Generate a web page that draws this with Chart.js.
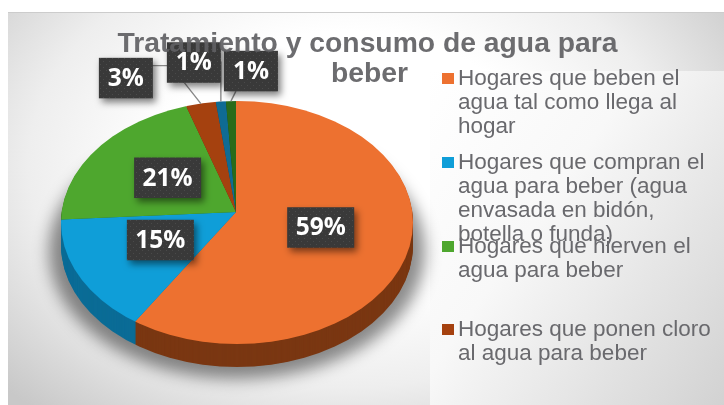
<!DOCTYPE html>
<html><head><meta charset="utf-8">
<script src="https://cdn.jsdelivr.net/npm/chart.js@4"></script>
<style>
html,body{margin:0;padding:0;background:#fff;width:724px;height:405px;overflow:hidden}
#panel{position:absolute;left:8px;top:12px;width:716px;height:393px;border-top:1px solid #ccc;box-sizing:border-box;
background:radial-gradient(ellipse 470px 330px at 340px 150px,#ffffff 40%,#eeeeee 68%,#c8c8c8 100%)}
#legbg{position:absolute;left:430px;top:71px;width:294px;height:334px;background:linear-gradient(125deg,#ffffff 0%,#f8f8f8 40%,#d2d2d2 100%)}
canvas{position:absolute;left:0;top:0}
</style></head><body>
<div id="panel"></div><div id="legbg"></div>
<canvas id="c" width="724" height="405"></canvas>
<script>
const categories=[
 ["Hogares que beben el","agua tal como llega al","hogar"],
 ["Hogares que compran el","agua para beber (agua","envasada en bidón,","botella o funda)"],
 ["Hogares que hierven el","agua para beber"],
 ["Hogares que ponen cloro","al agua para beber"],
 [],[]];
const values=[59,15,21,3,1,1];
const valueLabels=["59%","15%","21%","3%","1%","1%"];
const colors=["#ED7130","#0F9ED8","#4EA72E","#A5410F","#0F6B93","#2A6B1A"];
const sideColors=["#7A3712","#0B6C96","#2F6A1B","#6A2A0A","#0A4A66","#1A4A10"];
const titleLines=["Tratamiento y consumo de agua para","beber"];

// rim ellipse of the tilted disc, and the foreshortening about the chart centre
const rimX=237,rimY=222.5,rimRx=176,rimRy=121.5,squash=0.69,depth=23;
// label placement, in pixels: from the slice anchor (big slices) or rim point (callouts)
const labelOffsets=[[-7.5,-3],[7,-5.7],[11,3],[-75,-25.5],[-27,-39],[20,-30]];
const labelIsCallout=[false,false,false,true,true,true];
const leaderBends=[[[-30,-38],[-50,-38]],[[0,-40]],[[5,-10]]];
const leaderOf=[null,null,null,0,1,2];
const legendTop=[79,163,247,330];

function centre(chart){const a=chart.getDatasetMeta(0).data[0];return [a.x,a.y];}
function rimClip(ctx,dy){ctx.beginPath();ctx.ellipse(rimX,rimY+dy,rimRx,rimRy,0,0,Math.PI*2);ctx.clip();}
function tilt(ctx,c,dy){ctx.translate(c[0],c[1]+dy);ctx.scale(1,squash);ctx.translate(-c[0],-c[1]);}
// point where the slice's mid-ray leaves the rim ellipse
function rimPoint(c,a){
 const p=a.getProps(['startAngle','endAngle'],true),m=(p.startAngle+p.endAngle)/2;
 const dx=Math.cos(m),dy=Math.sin(m)*squash,ox=c[0]-rimX,oy=c[1]-rimY;
 const A=dx*dx/(rimRx*rimRx)+dy*dy/(rimRy*rimRy),B=2*(ox*dx/(rimRx*rimRx)+oy*dy/(rimRy*rimRy)),C=ox*ox/(rimRx*rimRx)+oy*oy/(rimRy*rimRy)-1;
 const t=(-B+Math.sqrt(B*B-4*A*C))/(2*A);
 return [c[0]+dx*t,c[1]+dy*t];
}
function texture(ctx){
 const t=document.createElement('canvas');t.width=t.height=6;const g=t.getContext('2d');
 g.fillStyle='#393939';g.fillRect(0,0,6,6);g.fillStyle='#4a4a4a';g.fillRect(1,1,1,1);g.fillRect(4,4,1,1);
 return ctx.createPattern(t,'repeat');
}

const pie3d={
 id:'pie3d',
 beforeDatasetsDraw(chart){
  const ctx=chart.ctx,arcs=chart.getDatasetMeta(0).data,c=centre(chart);
  ctx.save();ctx.filter='blur(8px)';ctx.fillStyle='rgba(0,0,0,0.45)';
  ctx.beginPath();ctx.ellipse(rimX,rimY+depth+6,rimRx+12,rimRy+6,0,0,Math.PI*2);ctx.fill();ctx.restore();
  for(let d=depth;d>0;d--){
   ctx.save();rimClip(ctx,d);tilt(ctx,c,d);
   arcs.forEach((a,i)=>{
     const s=a.options.backgroundColor,b=a.options.borderColor;
     a.options.backgroundColor=sideColors[i];a.options.borderColor=sideColors[i];
     a.draw(ctx);
     a.options.backgroundColor=s;a.options.borderColor=b;});
   ctx.restore();
  }
  ctx.save();rimClip(ctx,0);tilt(ctx,c,0);
 },
 afterDatasetsDraw(chart){
  const ctx=chart.ctx,arcs=chart.getDatasetMeta(0).data,c=centre(chart);
  ctx.restore();
  const boxes=arcs.map((a,i)=>{
   const rim=rimPoint(c,a),p=a.tooltipPosition();
   const anchor=labelIsCallout[i]?rim:[p.x,c[1]+(p.y-c[1])*squash];
   return {rim,x:anchor[0]+labelOffsets[i][0],y:anchor[1]+labelOffsets[i][1]};
  });
  ctx.strokeStyle='#8a8a8a';ctx.lineWidth=1.4;
  boxes.forEach((b,i)=>{
   if(leaderOf[i]===null)return;
   ctx.beginPath();ctx.moveTo(b.rim[0],b.rim[1]);
   leaderBends[leaderOf[i]].forEach(o=>ctx.lineTo(b.rim[0]+o[0],b.rim[1]+o[1]));ctx.stroke();
  });
  const fill=texture(ctx);
  boxes.forEach((b,i)=>{
   const w=valueLabels[i].length>2?67:54,h=40.5;
   ctx.save();
   ctx.shadowColor='rgba(0,0,0,0.5)';ctx.shadowBlur=7;ctx.shadowOffsetX=3;ctx.shadowOffsetY=4;
   ctx.fillStyle=fill;ctx.fillRect(b.x-w/2,b.y-h/2,w,h);ctx.restore();
   ctx.fillStyle='#fff';ctx.font='bold 24.5px "Open Sans","DejaVu Sans",sans-serif';
   ctx.textAlign='center';ctx.textBaseline='middle';
   ctx.fillText(valueLabels[i],b.x,b.y+1);
  });
  ctx.textAlign='left';ctx.textBaseline='alphabetic';
  ctx.font='22.5px "Liberation Sans",Arial,sans-serif';
  categories.forEach((lines,i)=>{
   if(!lines.length)return;
   const t=legendTop[i];
   ctx.fillStyle=colors[i];ctx.fillRect(442,t-6,12,11);
   ctx.fillStyle='#69696d';
   lines.forEach((l,j)=>ctx.fillText(l,458,t+6+j*24));
  });
 }
};

new Chart(document.getElementById('c'),{
 type:'pie',
 data:{labels:categories.map(l=>l.join(' ')),datasets:[{data:values,backgroundColor:colors,borderWidth:0}]},
 options:{responsive:false,animation:false,
  layout:{padding:{left:40,right:292,top:20,bottom:1}},
  plugins:{legend:{display:false},tooltip:{enabled:false},title:{display:false}}
 },
 plugins:[pie3d,{
  id:'titleText',
  afterDraw(chart){
   const ctx=chart.ctx;ctx.save();
   ctx.font='bold 28.3px "Liberation Sans",Arial,sans-serif';ctx.fillStyle='#5f5f63';
   ctx.textAlign='center';ctx.textBaseline='alphabetic';ctx.globalAlpha=0.92;
   ctx.fillText(titleLines[0],367.5,52);
   ctx.fillText(titleLines[1],369.5,82);
   ctx.restore();
  }
 }]
});
</script></body></html>
